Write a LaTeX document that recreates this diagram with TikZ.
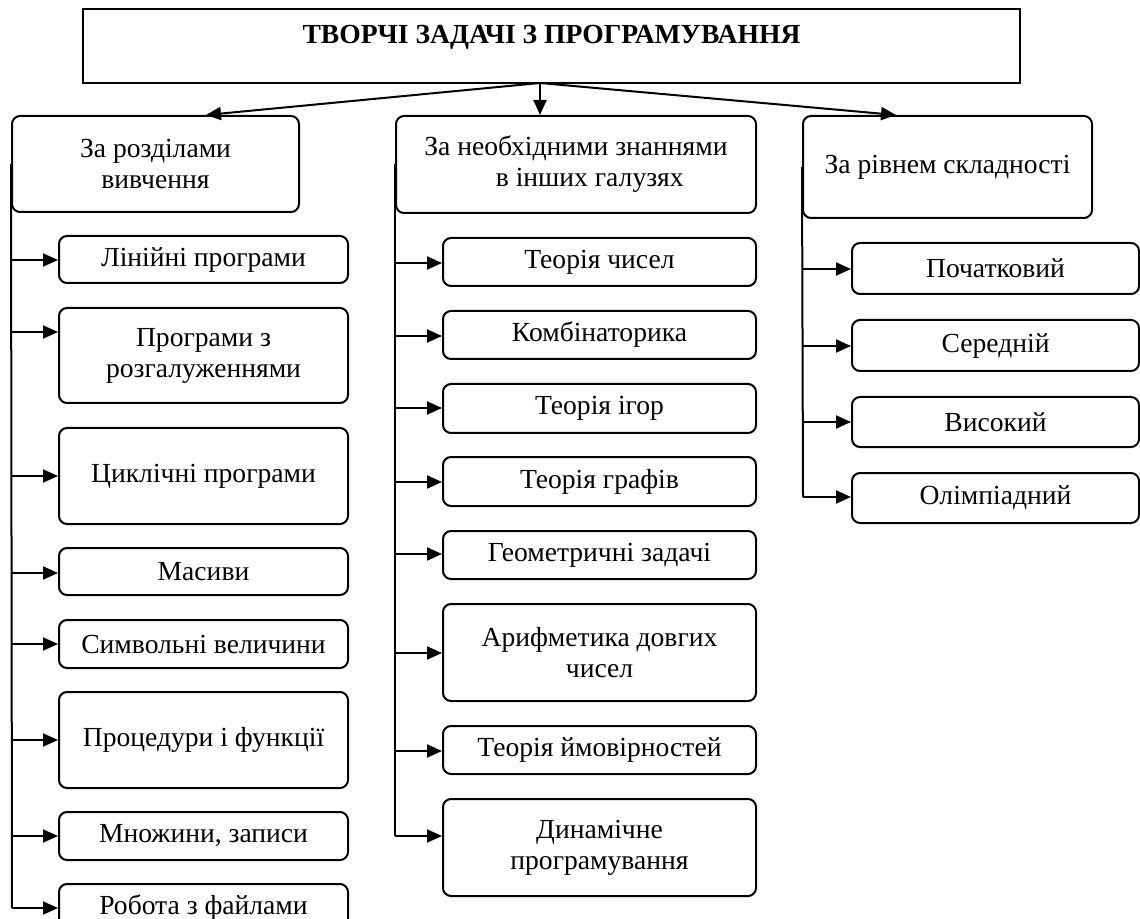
\documentclass[tikz,border=0pt]{standalone}
\usepackage{fontspec}
\setmainfont{Liberation Serif}
\usetikzlibrary{arrows.meta}
\begin{document}
\begin{tikzpicture}[x=0.5pt,y=-0.5pt,
  box/.style={draw,line width=1pt,rounded corners=4pt,align=center,inner sep=0pt,
    font=\fontsize{13.8}{15.5}\selectfont},
  titlebox/.style={draw,line width=1pt,align=center,inner sep=0pt,
    font=\fontsize{13.8}{15.5}\selectfont\bfseries,text height=10pt,text depth=12pt},
  arr/.style={line width=1pt,-{Triangle[length=7.5pt,width=6.5pt]}},
  trunk/.style={line width=1pt}]
\useasboundingbox (0,0) rectangle (1140,919);

% title
\node[titlebox,minimum width=468.5pt,minimum height=37pt] (top) at (551.5,46) {ТВОРЧІ ЗАДАЧІ З ПРОГРАМУВАННЯ};

% headers
\node[box,minimum width=143.5pt,minimum height=48pt] (h1) at (155.5,164) {За розділами\\вивчення};
\node[box,minimum width=180pt,minimum height=48.5pt] (h2) at (576,164.5) {За необхідними знаннями\\\hspace{1em}в інших галузях};
\node[box,minimum width=144.5pt,minimum height=51pt] (h3) at (947.5,167) {За рівнем складності};

% column 1
\foreach \n/\y/\h/\t in {a1/259.5/23.5/Лінійні програми,
  a2/355.5/47.5/{Програми з\\розгалуженнями},
  a3/476/48/Циклічні програми,
  a4/571.5/23.5/Масиви,
  a5/644/24/Символьні величини,
  a6/740/48/Процедури і функції,
  a7/836/24/{Множини, записи},
  a8/908/24/Робота з файлами}
  \node[box,minimum width=144.5pt,minimum height=\h pt] (\n) at (203.5,\y) {\t};

% column 2
\foreach \n/\y/\h/\t in {b1/262/24/Теорія чисел,
  b2/335/24/Комбінаторика,
  b3/408.5/24.5/Теорія ігор,
  b4/481.5/24.5/Теорія графів,
  b5/555/24/Геометричні задачі,
  b6/652.5/48.5/{Арифметика довгих\\чисел},
  b7/750/24/Теорія ймовірностей,
  b8/847.5/48.5/{Динамічне\\програмування}}
  \node[box,minimum width=156.5pt,minimum height=\h pt] (\n) at (599.5,\y) {\t};

% column 3
\foreach \n/\y/\h/\t in {c1/268.5/25.5/Початковий,
  c2/345.5/25.5/Середній,
  c3/422/25/Високий,
  c4/498/25/Олімпіадний}
  \node[box,minimum width=143.5pt,minimum height=\h pt] (\n) at (995.5,\y) {\t};

% top arrows
\coordinate (o) at (540,83);
\draw[arr] (o) -- ([xshift=97.5pt]h1.north west);
\draw[arr] (o) -- (o |- h2.north);
\draw[arr] (o) -- ([xshift=47pt]h3.north west);

% trunks and branches
\foreach \n/\y in {a1/260,a2/332,a3/476,a4/573,a5/644,a6/740,a7/836,a8/908}{
  \coordinate (t\n) at (12,\y);
  \draw[arr] (t\n) -- (t\n -| \n.west);}
\draw[trunk] (h1.west) -- (ta8);

\foreach \n/\y in {b1/263,b2/336,b3/408,b4/482,b5/554,b6/653,b7/751,b8/836}{
  \coordinate (t\n) at (395,\y);
  \draw[arr] (t\n) -- (t\n -| \n.west);}
\draw[trunk] (h2.west) -- (tb8);

\foreach \n/\y in {c1/269,c2/346,c3/422,c4/497}{
  \coordinate (t\n) at (803,\y);
  \draw[arr] (t\n) -- (t\n -| \n.west);}
\draw[trunk] (h3.west) -- (tc4);
\end{tikzpicture}
\end{document}
